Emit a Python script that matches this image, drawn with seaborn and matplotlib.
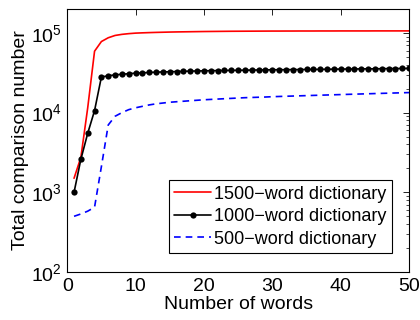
import numpy as np
import pandas as pd
import matplotlib
matplotlib.use("Agg")
import matplotlib.pyplot as plt
import seaborn as sns

words = list(range(1, 51))

red_1500 = [1500, 2750, 11500, 59000, 78000, 87000, 93000, 96000, 98000, 99500,
            100300, 101000, 101600, 102100, 102600, 103000, 103300, 103600, 103900, 104200,
            104400, 104600, 104800, 105000, 105100, 105200, 105300, 105400, 105500, 105600,
            105600, 105700, 105700, 105800, 105800, 105800, 105900, 105900, 105900, 106000,
            106000, 106000, 106000, 106000, 106100, 106100, 106100, 106100, 106100, 106100]

black_1000 = [1000, 2600, 5500, 10600, 28000, 29000, 29800, 30300, 30800, 31300,
              31600, 31900, 32200, 32400, 32600, 32800, 33000, 33200, 33300, 33500,
              33600, 33700, 33800, 33900, 34000, 34100, 34200, 34300, 34400, 34500,
              34550, 34600, 34700, 34750, 34800, 34850, 34900, 35000, 35100, 35200,
              35250, 35300, 35400, 35450, 35500, 35600, 35700, 35750, 35800, 35900]

blue_500 = [500, 535, 580, 650, 2100, 7000, 9000, 10000, 10900, 11500,
            12000, 12500, 12900, 13200, 13500, 13700, 13900, 14100, 14300, 14500,
            14650, 14800, 14950, 15100, 15250, 15400, 15500, 15600, 15700, 15850,
            15950, 16050, 16150, 16250, 16350, 16450, 16550, 16650, 16750, 16850,
            16950, 17050, 17150, 17250, 17350, 17450, 17550, 17650, 17750, 17850]

labels = ["1500\u2212word dictionary", "1000\u2212word dictionary", "500\u2212word dictionary"]
x_ticks = [0, 10, 20, 30, 40, 50]

sns.set_style("white")
plt.rcParams['font.family'] = ['Liberation Sans', 'DejaVu Sans']
plt.rcParams['mathtext.fontset'] = 'custom'
plt.rcParams['mathtext.rm'] = 'Liberation Sans'
plt.rcParams['mathtext.it'] = 'Liberation Sans'
plt.rcParams['text.color'] = 'black'
plt.rcParams['axes.labelcolor'] = 'black'
plt.rcParams['xtick.color'] = 'black'
plt.rcParams['ytick.color'] = 'black'

FS = 14

fig = plt.figure(figsize=(4.2, 3.2), dpi=100)
ax = fig.add_axes([0.16, 0.15, 0.814, 0.822])

sns.lineplot(x=words, y=red_1500, color="#ff0000", linewidth=1.2, label=labels[0], ax=ax)
sns.lineplot(x=words, y=black_1000, color="#000000", linewidth=1.2, marker="o",
             markersize=4.5, markeredgewidth=0, label=labels[1], ax=ax)
sns.lineplot(x=words, y=blue_500, color="#0000ff", linewidth=1.2, linestyle=(0, (4, 3)),
             label=labels[2], ax=ax)

ax.set_yscale("log")
ax.set_xlim(0, 50)
ax.set_ylim(100, 2e5)
ax.set_xticks(x_ticks)
ax.set_xticklabels([str(t) for t in x_ticks])
ax.set_xlabel("Number of words", fontsize=FS, labelpad=1, color="black")
ax.set_ylabel("Total comparison number", fontsize=FS, labelpad=1, color="black")

ax.tick_params(axis="both", which="both", direction="in", top=True, right=True,
               labelsize=FS, colors="black")
ax.tick_params(axis="both", which="major", length=4, width=0.6)
ax.tick_params(axis="both", which="minor", length=2, width=0.5)
ax.tick_params(axis="x", pad=4)
ax.tick_params(axis="y", pad=4)
for s in ax.spines.values():
    s.set_color("black")
    s.set_linewidth(0.8)

leg = ax.legend(loc="lower right", bbox_to_anchor=(0.95, 0.072), fontsize=13,
                frameon=True, fancybox=False, edgecolor="black", framealpha=1,
                handlelength=2.0, borderpad=0.3, labelspacing=0.3, handletextpad=0.2,
                borderaxespad=0, labelcolor="black")
leg.get_frame().set_linewidth(0.8)

fig.savefig("out.png", dpi=100)
